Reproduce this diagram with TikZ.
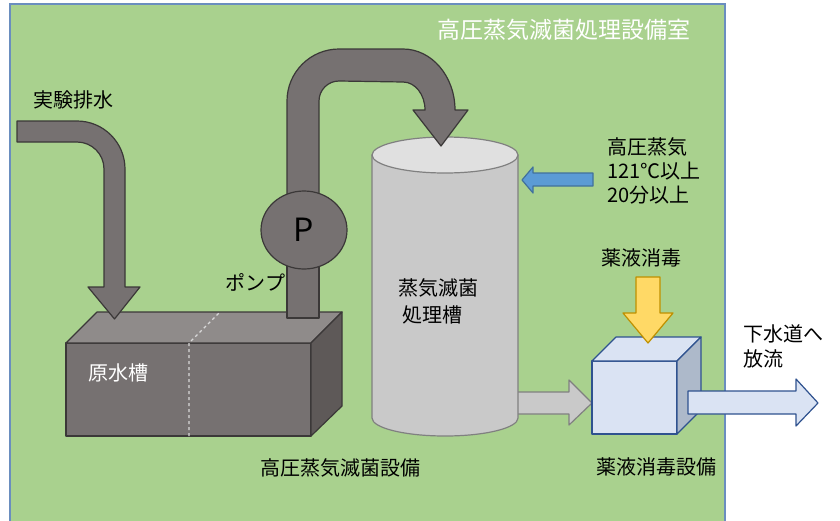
\documentclass[tikz,border=0pt]{standalone}
\usepackage{fontspec}
\usetikzlibrary{shapes.geometric}
\setmainfont{Noto Sans CJK JP}
\definecolor{room}{HTML}{A9D18E}
\definecolor{roomedge}{HTML}{6A8EBF}
\definecolor{pipe}{HTML}{767171}
\definecolor{pipetop}{HTML}{8F8B8A}
\definecolor{pipeside}{HTML}{5E5958}
\definecolor{pipeedge}{HTML}{3B3838}
\definecolor{steel}{HTML}{C9C9C9}
\definecolor{steeltop}{HTML}{E0E0E0}
\definecolor{steeledge}{HTML}{808080}
\definecolor{boxfill}{HTML}{DAE3F3}
\definecolor{boxside}{HTML}{ADB9CA}
\definecolor{boxedge}{HTML}{2F528F}
\definecolor{chem}{HTML}{FFD966}
\definecolor{chemedge}{HTML}{BF9000}
\definecolor{steam}{HTML}{5B9BD5}
\definecolor{steamedge}{HTML}{41719C}
\tikzset{
  pipeshape/.style={fill=pipe, draw=pipeedge, line width=1.2pt, line join=round},
  steelshape/.style={fill=steel, draw=steeledge, line width=1.2pt, line join=round},
  bluebox/.style={fill=boxfill, draw=boxedge, line width=1.2pt, line join=round},
  lbl/.style={font=\fontsize{20}{24}\selectfont, text=black, inner sep=0pt},
  wlbl/.style={lbl, text=white},
}
\begin{document}
\begin{tikzpicture}[x=1pt, y=-1pt]
\useasboundingbox (0,0) rectangle (840,520);

% equipment room
\begin{scope}
  \clip (0,0) rectangle (840,520);
  \path[fill=room, draw=roomedge, line width=1.2pt] (10,4) rectangle (725,540);
\end{scope}
\node[wlbl, font=\fontsize{23}{27}\selectfont] (roomtitle) at (563.5,30) {高圧蒸気滅菌処理設備室};

% raw water tank
\path[pipeshape] (66,343) rectangle (311,436);
\path[pipeshape, fill=pipetop] (66,343) -- (97,312) -- (342,312) -- (311,343) -- cycle;
\path[pipeshape, fill=pipeside] (311,343) -- (342,312) -- (342,406) -- (311,436) -- cycle;
\draw[white!85!black, line width=1.2pt, dashed] (189,436) -- (189,343) -- (220,312);
\node[wlbl] (rawtank) at (118,373) {原水槽};

% lab drain pipe into the tank
\path[pipeshape] (17,121) -- (77,121) arc[start angle=-90, end angle=0, radius=48]
  -- (125,287) -- (140,287) -- (114.5,319) -- (88,287) -- (104,287) -- (104,169)
  arc[start angle=0, end angle=-90, radius=27] -- (17,142) -- cycle;
\node[lbl] (drain) at (73,100) {実験排水};

% sterilization vessel and outlet
\path[steelshape] (505,392) -- (569,392) -- (569,380) -- (592,403) -- (569,425) -- (569,414) -- (505,414) -- cycle;
\path[steelshape] (372,155) -- (372,418) arc[start angle=180, end angle=0, x radius=73, y radius=18] -- (518,155) -- cycle;
\path[steelshape, fill=steeltop] (445,155) ellipse[x radius=73, y radius=18];
\node[lbl] (vessel1) at (438,288) {蒸気滅菌};
\node[lbl] (vessel2) at (432,315) {処理槽};

% pump line from tank up and over into the vessel
\path[pipeshape] (287,250) rectangle (319,318);
\path[pipeshape] (287,250) -- (287,101) arc[start angle=180, end angle=270, radius=52]
  -- (403,49) arc[start angle=270, end angle=360, x radius=52, y radius=61]
  -- (468,110) -- (441,146) -- (413,110) -- (425,110)
  arc[start angle=0, end angle=-90, x radius=22, y radius=28]
  -- (339,81) arc[start angle=-90, end angle=-180, radius=20] -- (319,250) -- cycle;
\node[pipeshape, ellipse, minimum width=86pt, minimum height=78pt, inner sep=0pt,
  font=\fontsize{32}{36}\selectfont] (pump) at (304,230) {P};
\node[lbl] (pumplbl) at (255.5,282) {ポンプ};

% steam supply
\path[fill=steam, draw=steamedge, line width=1.2pt, line join=round]
  (522,180) -- (533,167) -- (533,173) -- (593,173) -- (593,186) -- (533,186) -- (533,193) -- cycle;
\node[lbl, anchor=west] (steam1) at (607,147) {高圧蒸気};
\node[lbl, anchor=west] (steam2) at (607,171) {121℃以上};
\node[lbl, anchor=west] (steam3) at (607,195) {20分以上};

% chemical disinfection unit
\path[bluebox] (592,361) rectangle (677,434);
\path[bluebox] (592,361) -- (616,337) -- (701,337) -- (677,361) -- cycle;
\path[bluebox, fill=boxside] (677,361) -- (701,337) -- (701,410) -- (677,434) -- cycle;
\path[fill=chem, draw=chemedge, line width=1.2pt, line join=round]
  (636,277) -- (660,277) -- (660,313) -- (673,313) -- (648,343) -- (623,313) -- (636,313) -- cycle;
\node[lbl] (chemlbl) at (641.5,258) {薬液消毒};
\node[lbl] (unitlbl) at (656,467) {薬液消毒設備};
\node[lbl] (plantlbl) at (340,468) {高圧蒸気滅菌設備};

% discharge to sewer
\path[bluebox] (688,391) -- (796,391) -- (796,379) -- (818,403) -- (796,426) -- (796,414) -- (688,414) -- cycle;
\node[lbl, anchor=west] (sewer1) at (743,334) {下水道へ};
\node[lbl, anchor=west] (sewer2) at (743,359) {放流};
\end{tikzpicture}
\end{document}
